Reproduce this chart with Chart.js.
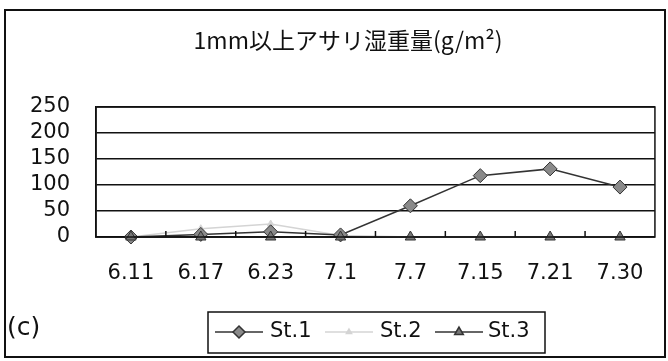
<!DOCTYPE html>
<html>
<head>
<meta charset="utf-8">
<script src="https://cdn.jsdelivr.net/npm/chart.js@4"></script>
<style>
  html, body { margin: 0; padding: 0; background: #fff; }
  #wrap { width: 668px; height: 361px; }
</style>
</head>
<body>
<div id="wrap"><canvas id="c_chart" width="668" height="361"></canvas></div>
<script>
var title = '1mm以上アサリ湿重量(g/m²)';
var dates = ['6.11', '6.17', '6.23', '7.1', '7.7', '7.15', '7.21', '7.30'];
var st1 = [0, 5, 10, 4, 60, 118, 131, 96];
var st2 = [0, 16, 25, 3, 0, 0, 0, 0];
var st3 = [0, 0, 0, 0, 0, 0, 0, 0];
var yTicks = [0, 50, 100, 150, 200, 250];

var FONT = '"DejaVu Sans", sans-serif';

// frame, title, inner ticks, (c) label and the little legend box
var decor = {
  id: 'decor',
  afterDraw: function (chart) {
    var ctx = chart.ctx, a = chart.chartArea, x = chart.scales.x;
    ctx.save();
    ctx.strokeStyle = '#111';
    ctx.lineWidth = 2;
    ctx.strokeRect(5, 10, 660, 347);
    ctx.lineWidth = 1.5;
    ctx.strokeRect(a.left, a.top, a.right - a.left, a.bottom - a.top);
    for (var i = 1; i < dates.length; i++) {
      var px = (x.getPixelForValue(i - 1) + x.getPixelForValue(i)) / 2;
      ctx.beginPath();
      ctx.moveTo(px, a.bottom);
      ctx.lineTo(px, a.bottom - 6);
      ctx.stroke();
    }
    ctx.fillStyle = '#111';
    ctx.textBaseline = 'middle';
    ctx.font = '23px "Noto Sans CJK JP", sans-serif';
    ctx.textAlign = 'center';
    ctx.fillText(title, 348, 40);
    ctx.textAlign = 'left';
    ctx.font = '25px ' + FONT;
    ctx.fillText('(c)', 7, 328);

    // legend
    ctx.font = '21px ' + FONT;
    ctx.lineWidth = 1.5;
    ctx.strokeRect(208, 312, 337, 41);
    var items = [
      {sx: 215, tx: 270},
      {sx: 325, tx: 380},
      {sx: 435, tx: 488}
    ];
    chart.data.datasets.forEach(function (ds, k) {
      var it = items[k], cy = 332;
      ctx.strokeStyle = ds.borderColor;
      ctx.lineWidth = 1.5;
      ctx.beginPath();
      ctx.moveTo(it.sx, cy);
      ctx.lineTo(it.sx + 48, cy);
      ctx.stroke();
      ctx.fillStyle = ds.pointBackgroundColor;
      ctx.strokeStyle = ds.pointBorderColor;
      Chart.helpers.drawPoint(ctx, {
        pointStyle: ds.pointStyle, radius: ds.pointRadius - 1, borderWidth: 1
      }, it.sx + 24, cy);
      ctx.fillStyle = '#111';
      ctx.fillText(ds.label, it.tx, cy);
    });
    ctx.restore();
  }
};

function mkSet(label, data, color, style, r, fill, ord) {
  return {
    label: label,
    data: data,
    order: ord,
    clip: false,
    borderColor: color,
    borderWidth: 1.5,
    pointStyle: style,
    pointRadius: r,
    pointBackgroundColor: fill,
    pointBorderColor: color,
    pointBorderWidth: 1,
    tension: 0
  };
}

new Chart(document.getElementById('c_chart').getContext('2d'), {
  type: 'line',
  data: {
    labels: dates,
    datasets: [
      mkSet('St.1', st1, '#333', 'rectRot', 7, '#8a8a8a', 1),
      mkSet('St.2', st2, '#d4d4d4', 'triangle', 4, '#d4d4d4', 2),
      mkSet('St.3', st3, '#333', 'triangle', 6, '#777', 0)
    ]
  },
  options: {
    responsive: false,
    animation: false,
    layout: { padding: { top: 107, right: 10, left: 0, bottom: 0 } },
    plugins: {
      legend: { display: false },
      tooltip: { enabled: false },
      title: { display: false }
    },
    scales: {
      x: {
        offset: true,
        grid: { display: false, drawTicks: false },
        border: { color: '#111', width: 1.5 },
        ticks: { color: '#111', font: { family: FONT, size: 21 }, padding: 24, maxRotation: 0, autoSkip: false },
        afterFit: function (s) { s.height = 124; }
      },
      y: {
        min: 0,
        max: 250,
        afterBuildTicks: function (s) { s.ticks = yTicks.map(function (v) { return {value: v}; }); },
        grid: { color: '#111', lineWidth: 1.5, drawTicks: false },
        border: { color: '#111', width: 1.5 },
        ticks: { color: '#111', font: { family: FONT, size: 21 }, padding: 26, autoSkip: false },
        afterFit: function (s) { s.width = 96; }
      }
    }
  },
  plugins: [decor]
});
</script>
</body>
</html>
